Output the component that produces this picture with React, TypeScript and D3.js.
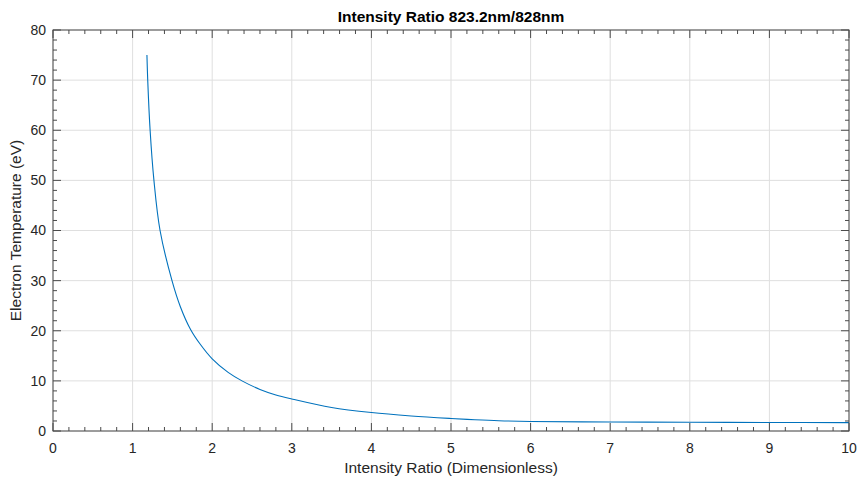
import React from "react";
import * as d3 from "d3";

const ratio = [1.18, 1.19, 1.22, 1.268, 1.345, 1.495, 1.6, 1.73, 1.85, 2.0, 2.2, 2.38, 2.6, 2.8, 3.0, 3.5, 4.0, 4.5, 5.0, 5.3, 5.6, 6.0, 7.0, 8.0, 9.0, 10.0];
const temperature = [75, 70, 60, 50, 40, 30, 24.8, 20.2, 17.3, 14.4, 11.7, 9.95, 8.3, 7.2, 6.4, 4.7, 3.68, 3.0, 2.5, 2.25, 2.05, 1.9, 1.8, 1.75, 1.7, 1.67];
const xTicks = [0, 1, 2, 3, 4, 5, 6, 7, 8, 9, 10];
const yTicks = [0, 10, 20, 30, 40, 50, 60, 70, 80];

const W = 857;
const H = 480;
const M = { left: 53, right: 8, top: 30, bottom: 49 };
const FONT = "'Liberation Sans', Arial, Helvetica, sans-serif";

export default function App() {
  const x = d3.scaleLinear().domain([0, 10]).range([M.left, W - M.right]);
  const y = d3.scaleLinear().domain([0, 80]).range([H - M.bottom, M.top]);
  const pts: [number, number][] = ratio.map((r, i) => [r, temperature[i]]);
  const line = d3
    .line<[number, number]>()
    .x((d) => x(d[0]))
    .y((d) => y(d[1]))
    .curve(d3.curveCatmullRom.alpha(0.5));

  const xMinor = d3.range(0, 10.0001, 0.2).filter((v) => Math.abs(v - Math.round(v)) > 1e-6);
  const yMinor = d3.range(0, 80.0001, 2).filter((v) => v % 10 !== 0);
  const x0 = M.left, x1 = W - M.right, y0 = H - M.bottom, y1 = M.top;
  const axisColor = "#4a4a4a";
  const textColor = "#262626";
  const major = 8, minor = 4;

  return (
    <svg width={W} height={H} style={{ position: "absolute", left: 0, top: 0, background: "#fff" }} fontFamily={FONT}>
      <rect x={0} y={0} width={W} height={H} fill="#fff" />
      {/* grid */}
      {xTicks.map((t) => (
        <line key={"gx" + t} x1={x(t)} x2={x(t)} y1={y1} y2={y0} stroke="#dfdfdf" strokeWidth={1} />
      ))}
      {yTicks.map((t) => (
        <line key={"gy" + t} x1={x0} x2={x1} y1={y(t)} y2={y(t)} stroke="#dfdfdf" strokeWidth={1} />
      ))}
      {/* data */}
      <path d={line(pts) || ""} fill="none" stroke="#0072BD" strokeWidth={1.1} />
      {/* box */}
      <rect x={x0} y={y1} width={x1 - x0} height={y0 - y1} fill="none" stroke={axisColor} strokeWidth={1} />
      {/* x ticks bottom & top */}
      {xTicks.map((t) => (
        <g key={"xt" + t}>
          <line x1={x(t)} x2={x(t)} y1={y0} y2={y0 - major} stroke={axisColor} />
          <line x1={x(t)} x2={x(t)} y1={y1} y2={y1 + major} stroke={axisColor} />
          <text x={x(t)} y={y0 + 22} textAnchor="middle" fontSize={14} fill={textColor}>{t}</text>
        </g>
      ))}
      {xMinor.map((t, i) => (
        <g key={"xm" + i}>
          <line x1={x(t)} x2={x(t)} y1={y0} y2={y0 - minor} stroke={axisColor} />
          <line x1={x(t)} x2={x(t)} y1={y1} y2={y1 + minor} stroke={axisColor} />
        </g>
      ))}
      {/* y ticks left & right */}
      {yTicks.map((t) => (
        <g key={"yt" + t}>
          <line x1={x0} x2={x0 + major} y1={y(t)} y2={y(t)} stroke={axisColor} />
          <line x1={x1} x2={x1 - major} y1={y(t)} y2={y(t)} stroke={axisColor} />
          <text x={x0 - 7} y={y(t)} dy="0.35em" textAnchor="end" fontSize={14} fill={textColor}>{t}</text>
        </g>
      ))}
      {yMinor.map((t, i) => (
        <g key={"ym" + i}>
          <line x1={x0} x2={x0 + minor} y1={y(t)} y2={y(t)} stroke={axisColor} />
          <line x1={x1} x2={x1 - minor} y1={y(t)} y2={y(t)} stroke={axisColor} />
        </g>
      ))}
      {/* labels */}
      <text x={(x0 + x1) / 2} y={22} textAnchor="middle" fontSize={15.5} fontWeight="bold" fill="#000">
        Intensity Ratio 823.2nm/828nm
      </text>
      <text x={(x0 + x1) / 2} y={473} textAnchor="middle" fontSize={15.5} fill={textColor}>
        Intensity Ratio (Dimensionless)
      </text>
      <text transform={`translate(21, ${(y0 + y1) / 2}) rotate(-90)`} textAnchor="middle" fontSize={15.5} fill={textColor}>
        Electron Temperature (eV)
      </text>
    </svg>
  );
}
